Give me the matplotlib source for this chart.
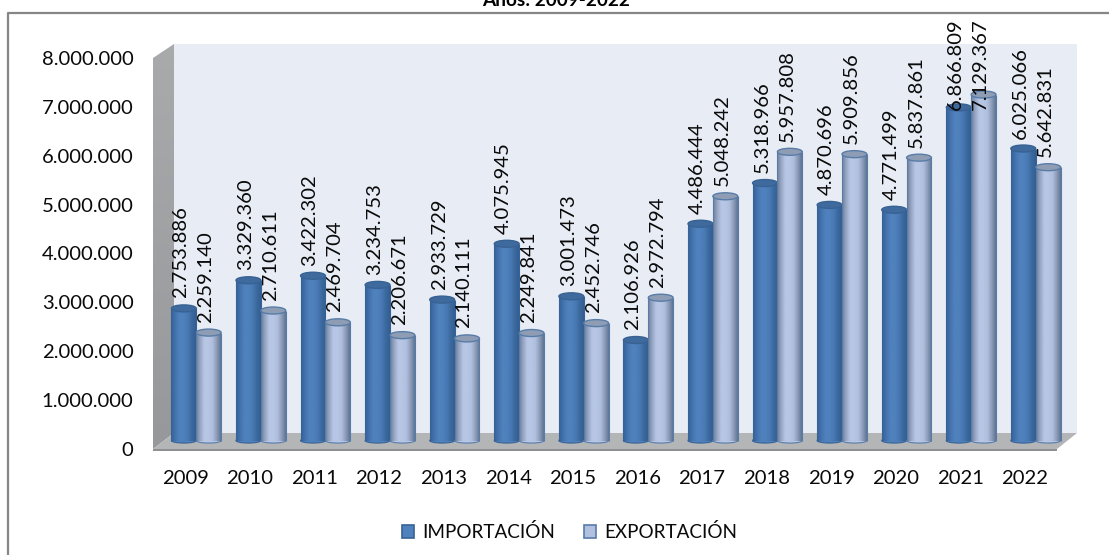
import numpy as np
import matplotlib
matplotlib.use("Agg")
import matplotlib.pyplot as plt
from matplotlib.patches import Ellipse, Polygon, Rectangle
from matplotlib.transforms import Affine2D
from matplotlib.lines import Line2D
from matplotlib.colors import LinearSegmentedColormap

years = ["2009","2010","2011","2012","2013","2014","2015","2016","2017","2018","2019","2020","2021","2022"]
importacion = [2753886,3329360,3422302,3234753,2933729,4075945,3001473,2106926,4486444,5318966,4870696,4771499,6866809,6025066]
exportacion = [2259140,2710611,2469704,2206671,2140111,2249841,2452746,2972794,5048242,5957808,5909856,5837861,7129367,5642831]
yticks = [0,1000000,2000000,3000000,4000000,5000000,6000000,7000000,8000000]
series_names = ["IMPORTACIÓN","EXPORTACIÓN"]
title_text = "Años: 2009-2022"

plt.rcParams['font.family'] = ['Lato','DejaVu Sans']
W, H = 1109, 555
fig = plt.figure(figsize=(W/100, H/100), dpi=100, facecolor='white')
L, R, T, B = 153, 1057, 58, 449
ax = fig.add_axes([L/W, (H-B)/H, (R-L)/W, (B-T)/H])
ax.patch.set_alpha(0)
for s in ax.spines.values():
    s.set_visible(False)

def fmt(v):
    return f"{v:,}".replace(",", ".")

ax.set_xticks(range(len(years)), years)
ax.set_yticks(yticks, [fmt(t) for t in yticks])
ax.tick_params(length=0, labelsize=14.6, labelcolor='#0A0A0A')
ax.tick_params(axis='x', pad=15)
ax.tick_params(axis='y', pad=14)

# walls, floor
def px(x, y):
    return ((x-L)/(R-L), (B-y)/(B-T))
wall_z = 0.5
ax.add_patch(Polygon([px(174,44),px(1077,44),px(1077,433),px(174,433)], closed=True, transform=ax.transAxes,
                     fc='#E8ECF5', ec='none', clip_on=False, zorder=wall_z))
side = Polygon([px(153,58),px(174,44),px(174,433),px(153,449)], closed=True, transform=ax.transAxes,
               fc='none', ec='none', clip_on=False, zorder=wall_z)
ax.add_patch(side)
side_cmap = LinearSegmentedColormap.from_list('s', ['#96989B', '#A9AAAC'])
(xa, ya), (xb, yb) = px(153, 449), px(174, 44)
side_im = ax.imshow(np.linspace(1, 0, 64).reshape(-1, 1), cmap=side_cmap, extent=(xa, xb, ya, yb), origin='upper',
                    aspect='auto', transform=ax.transAxes, zorder=wall_z, clip_on=True)
side_im.set_clip_path(side)
side_im.set_clip_box(fig.bbox)
ax.add_patch(Polygon([px(153,449),px(174,433),px(1077,433),px(1057,449)], closed=True, transform=ax.transAxes,
                     fc='#B3B5B7', ec='none', clip_on=False, zorder=wall_z))
ax.add_patch(Polygon([px(153,449),px(1057,449),px(1057,451),px(153,451)], closed=True, transform=ax.transAxes,
                     fc='#8E8F91', ec='none', clip_on=False, zorder=wall_z))

# cylinders
DX, DY = 11, 6
tr = ax.transData + Affine2D().translate(DX, DY)
bw = 0.385
ppm = (B-T)/8000000
base = 50000
eh_top = 7/ppm
eh_bot = 5/ppm

cmap_i = LinearSegmentedColormap.from_list('i', ['#34629A','#4472AC','#4F81BD','#4F81BD','#4A7AB5','#3C6A9F','#325E92'])
cmap_e = LinearSegmentedColormap.from_list('e', ['#6D7F9C','#97A7C4','#B6C6E4','#B6C6E4','#AEBEDC','#8E9DB8','#5F7596'])
grad = np.linspace(0, 1, 64).reshape(1, -1)

def cyl(x, v, cmap, edge, topc, z):
    ax.bar(x, v-base, bottom=base, width=bw, transform=tr, color='none', edgecolor='none', zorder=z, clip_on=False)
    ax.imshow(grad, cmap=cmap, extent=(x-bw/2, x+bw/2, base, v), aspect='auto', zorder=z,
              transform=tr, clip_on=False, interpolation='bilinear')
    ax.add_patch(Ellipse((x, base), bw, eh_bot, transform=tr, fc=cmap(0.5), ec=edge, lw=0.8, zorder=z-0.01, clip_on=False))
    ax.add_patch(Rectangle((x-bw/2, base), 0.0001, v-base, transform=tr, ec=edge, fc='none', lw=0.8, zorder=z+0.01, clip_on=False))
    ax.add_patch(Rectangle((x+bw/2, base), 0.0001, v-base, transform=tr, ec=edge, fc='none', lw=0.8, zorder=z+0.01, clip_on=False))
    ax.add_patch(Ellipse((x, v), bw, eh_top, transform=tr, fc=topc, ec=edge, lw=1.0, zorder=z+0.02, clip_on=False))

for i in range(len(years)):
    cyl(i-bw/2, importacion[i], cmap_i, '#386293', '#3F6A9E', 3+i*0.1)
    cyl(i+bw/2, exportacion[i], cmap_e, '#587CA8', '#8F9DB4', 3.05+i*0.1)

ax.set_xlim(-0.5, 13.5)
ax.set_ylim(0, 8000000)

# data labels
label_cap = 6600000
for i in range(len(years)):
    for off, vals in ((-bw/2, importacion), (bw/2, exportacion)):
        ax.annotate(fmt(vals[i]), xy=(i+off, min(vals[i], label_cap)), xycoords='data',
                    xytext=(DX-3, 16), textcoords='offset pixels', rotation=90,
                    ha='center', va='bottom', fontsize=14.6, color='#0A0A0A', zorder=10, annotation_clip=False)

# frame
fig.add_artist(Line2D([8/W, 8/W, 1], [0, 1-12.5/H, 1-12.5/H], transform=fig.transFigure, color='#868686', lw=1.6))
fig.text(556.5/W, 1-5.5/H, title_text, ha='center', va='baseline', fontsize=13.7, fontweight='bold', color='black')

# legend
handles = [Rectangle((0,0),1,1, fc='#4F81BD', ec='#386293', lw=1.2),
           Rectangle((0,0),1,1, fc='#B1C0DF', ec='#587CA8', lw=1.2)]
fig.legend(handles, series_names, loc='center', bbox_to_anchor=(569.5/W, 1-532/H), ncol=2, frameon=False,
           fontsize=13.6, handlelength=0.65, handleheight=0.65, handletextpad=0.42, columnspacing=1.55,
           labelcolor='#0A0A0A')

fig.savefig('out.png', dpi=100, facecolor='white')
